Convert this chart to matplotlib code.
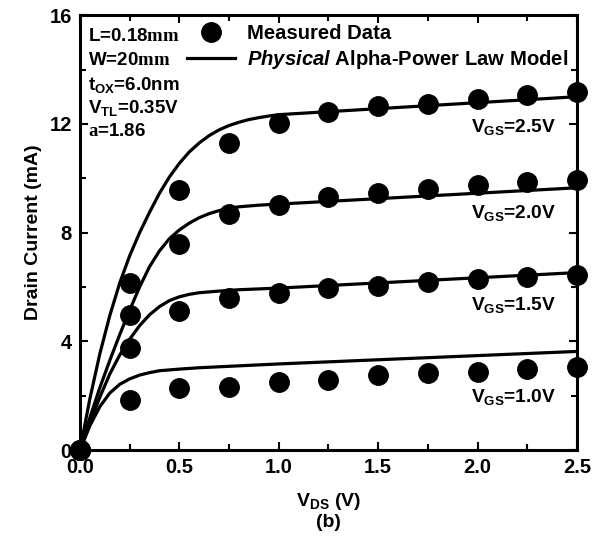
import numpy as np
import matplotlib
matplotlib.use("Agg")
import matplotlib.pyplot as plt
from matplotlib.lines import Line2D
from matplotlib.ticker import MultipleLocator

plt.rcParams['font.family'] = ['Liberation Sans', 'DejaVu Sans']
plt.rcParams['font.weight'] = 'bold'
plt.rcParams['mathtext.fontset'] = 'custom'
plt.rcParams['mathtext.rm'] = 'Liberation Sans:bold'
plt.rcParams['mathtext.it'] = 'Liberation Sans:bold:italic'
plt.rcParams['mathtext.bf'] = 'Liberation Serif:bold'
plt.rcParams['mathtext.sf'] = 'Liberation Sans:bold'

# measured data (V_DS in V, I_D in mA)
vds_meas = [0.0, 0.25, 0.5, 0.75, 1.0, 1.25, 1.5, 1.75, 2.0, 2.25, 2.5]
id_meas_25 = [0.0, 6.13, 9.56, 11.29, 12.03, 12.43, 12.65, 12.75, 12.93, 13.08, 13.18]
id_meas_20 = [0.0, 4.96, 7.58, 8.70, 9.01, 9.30, 9.46, 9.59, 9.75, 9.87, 9.93]
id_meas_15 = [0.0, 3.74, 5.11, 5.58, 5.79, 5.95, 6.03, 6.19, 6.28, 6.35, 6.44]
id_meas_10 = [0.0, 1.86, 2.27, 2.33, 2.51, 2.57, 2.76, 2.82, 2.88, 2.97, 3.06]

# model curves
vds_m25 = [0.0, 0.05, 0.1, 0.15, 0.2, 0.25, 0.3, 0.35, 0.4, 0.45, 0.5, 0.55, 0.6,
           0.65, 0.7, 0.75, 0.8, 0.85, 0.9, 0.95, 1.0, 2.5]
id_m25 = [0.0, 1.9, 3.55, 4.95, 6.15, 7.15, 8.0, 8.75, 9.45, 10.05, 10.55, 10.97, 11.3,
          11.57, 11.78, 11.94, 12.06, 12.16, 12.23, 12.29, 12.34, 13.0]

vds_m20 = [0.0, 0.05, 0.1, 0.15, 0.2, 0.25, 0.3, 0.35, 0.4, 0.45, 0.5, 0.55, 0.6,
           0.65, 0.7, 0.75, 0.8, 0.9, 1.0, 2.5]
id_m20 = [0.0, 1.2, 2.3, 3.3, 4.25, 5.15, 6.0, 6.75, 7.33, 7.78, 8.1, 8.35, 8.55,
          8.7, 8.81, 8.89, 8.95, 9.01, 9.05, 9.65]

vds_m15 = [0.0, 0.05, 0.1, 0.15, 0.2, 0.25, 0.3, 0.35, 0.4, 0.45, 0.5, 0.55, 0.6,
           0.7, 0.8, 1.0, 2.5]
id_m15 = [0.0, 1.0, 1.95, 2.8, 3.5, 4.08, 4.58, 4.98, 5.28, 5.5, 5.64, 5.73, 5.79,
          5.85, 5.9, 5.96, 6.53]

vds_m10 = [0.0, 0.05, 0.1, 0.15, 0.2, 0.25, 0.3, 0.35, 0.4, 0.5, 0.6, 0.8, 1.0, 2.5]
id_m10 = [0.0, 0.9, 1.6, 2.1, 2.42, 2.62, 2.76, 2.85, 2.92, 2.98, 3.03, 3.1, 3.17, 3.63]

vgs_labels = ['2.5', '2.0', '1.5', '1.0']
label_y = [11.88, 8.72, 5.33, 1.95]

fig = plt.figure(figsize=(6.06, 5.41), dpi=100)
ax = fig.add_axes([0.132, 0.168, 0.820, 0.804])

for v, i in [(vds_m25, id_m25), (vds_m20, id_m20), (vds_m15, id_m15), (vds_m10, id_m10)]:
  ax.plot(v, i, color='black', lw=2.3, solid_capstyle='round', solid_joinstyle='round')

for i in [id_meas_25, id_meas_20, id_meas_15, id_meas_10]:
  ax.plot(vds_meas, i, 'o', color='black', ms=14, clip_on=False, zorder=3)

for lab, y in zip(vgs_labels, label_y):
  ax.text(1.965, y, r"V$_{\mathrm{GS}}$=" + lab + "V", fontsize=13.8, fontweight='bold',
          ha='left', va='center')

# device parameters
params = [r"L=0.18$\mathbf{mm}$", r"W=20$\mathbf{mm}$", r"t$_{\mathrm{OX}}$=6.0nm",
          r"V$_{\mathrm{TL}}$=0.35V", r"$\mathbf{a}$=1.86"]
param_y = [15.22, 14.32, 13.42, 12.58, 11.72]
for s, y in zip(params, param_y):
  ax.text(0.04, y, s, fontsize=13.5, fontweight='bold', ha='left', va='center')

handles = [Line2D([], [], ls='none', marker='o', color='black', ms=14),
           Line2D([], [], color='black', lw=2.3)]
labels = ['Measured Data', r"$\mathit{Physical}$ Alpha-Power Law Model"]
ax.legend(handles, labels, loc='upper right', frameon=False,
          handlelength=2.4, handletextpad=0.55, labelspacing=0.25,
          borderaxespad=0.25, borderpad=0.2, prop={'weight': 'bold', 'size': 14.6})

ax.set_xlim(0, 2.5)
ax.set_ylim(0, 16)
ax.xaxis.set_major_locator(MultipleLocator(0.5))
ax.xaxis.set_minor_locator(MultipleLocator(0.25))
ax.yaxis.set_major_locator(MultipleLocator(4))
ax.yaxis.set_minor_locator(MultipleLocator(2))
ax.xaxis.set_major_formatter(plt.FuncFormatter(lambda x, p: f"{x:.1f}"))
ax.yaxis.set_major_formatter(plt.FuncFormatter(lambda x, p: f"{x:.0f}"))
ax.tick_params(which='both', direction='in', top=True, right=True, width=1.5)
ax.tick_params(which='major', length=6, labelsize=14.5, pad=6)
ax.tick_params(which='minor', length=4)
for lab in ax.get_xticklabels() + ax.get_yticklabels():
  lab.set_fontweight('bold')
for sp in ax.spines.values():
  sp.set_linewidth(2.2)

ax.set_ylabel('Drain Current (mA)', fontsize=14, fontweight='bold', labelpad=5)
ax.set_xlabel(r"V$_{\mathrm{DS}}$ (V)", fontsize=14, fontweight='bold', labelpad=10)
fig.text(0.542, 0.035, '(b)', fontsize=14, fontweight='bold', ha='center', va='center')

fig.savefig('out.png', dpi=100)
